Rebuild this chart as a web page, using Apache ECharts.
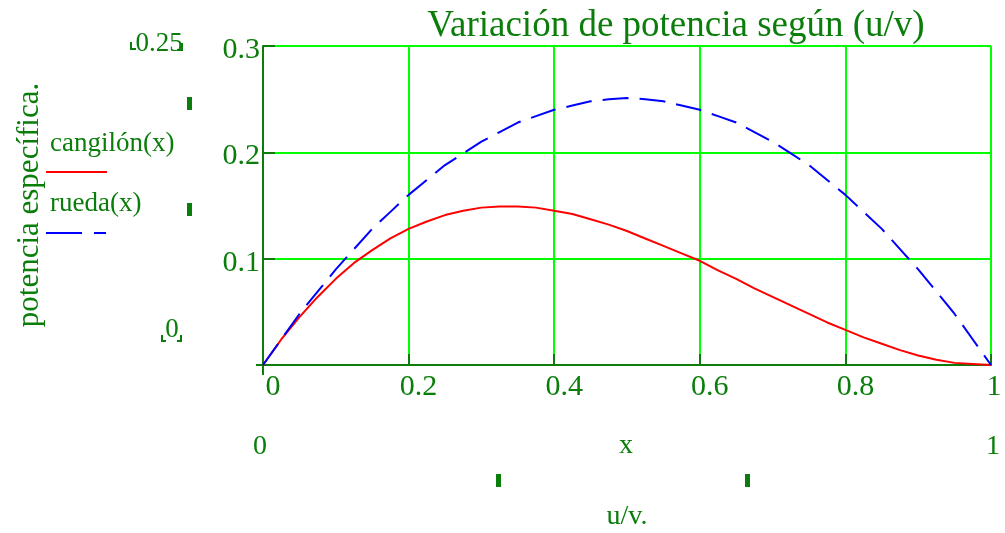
<!DOCTYPE html>
<html>
<head>
<meta charset="utf-8">
<script src="https://cdn.jsdelivr.net/npm/echarts@6/dist/echarts.min.js"></script>
<style>
html,body{margin:0;padding:0;background:#fff;}
#chart{width:1005px;height:533px;}
</style>
</head>
<body>
<div id="chart"></div>
<script>
// Data
const xValues = [0, 0.025, 0.05, 0.075, 0.1, 0.125, 0.15, 0.175, 0.2, 0.225, 0.25, 0.275, 0.3, 0.325, 0.35, 0.375, 0.4, 0.425, 0.45, 0.475, 0.5, 0.525, 0.55, 0.575, 0.6, 0.625, 0.65, 0.675, 0.7, 0.725, 0.75, 0.775, 0.8, 0.825, 0.85, 0.875, 0.9, 0.925, 0.95, 0.975, 1];
const cangilon = [0, 0.024, 0.045, 0.064, 0.081, 0.096, 0.108, 0.119, 0.128, 0.135, 0.141, 0.145, 0.148, 0.149, 0.149, 0.148, 0.145, 0.142, 0.137, 0.132, 0.126, 0.119, 0.112, 0.105, 0.098, 0.089, 0.081, 0.072, 0.064, 0.056, 0.048, 0.040, 0.033, 0.026, 0.020, 0.014, 0.009, 0.005, 0.002, 0.001, 0];
const rueda = [0, 0.024, 0.048, 0.069, 0.090, 0.109, 0.128, 0.144, 0.160, 0.174, 0.188, 0.199, 0.210, 0.219, 0.228, 0.234, 0.240, 0.244, 0.248, 0.250, 0.251, 0.250, 0.248, 0.244, 0.240, 0.234, 0.228, 0.219, 0.210, 0.199, 0.188, 0.174, 0.160, 0.144, 0.128, 0.109, 0.090, 0.069, 0.048, 0.024, 0];
const seriesNames = ['cangilón(x)', 'rueda(x)'];
const titleText = 'Variación de potencia según (u/v)';
const yAxisName = 'potencia específica.';
const xAxisName = 'u/v.';

const GREEN = '#0a7d0a';
const FONT = '"Liberation Serif", "Times New Roman", serif';
const chart = echarts.init(document.getElementById('chart'));

function txt(text, x, y, size, align, extra) {
  return Object.assign({
    type: 'text', x: x, y: y, silent: true,
    style: { text: text, fill: GREEN, fontFamily: FONT, fontSize: size, align: align || 'center', verticalAlign: 'middle' }
  }, extra || {});
}
function ln(x1, y1, x2, y2, color, w) {
  return { type: 'line', silent: true, shape: { x1: x1, y1: y1, x2: x2, y2: y2 }, style: { stroke: color, lineWidth: w } };
}
function poly(pts) {
  return { type: 'polyline', silent: true, shape: { points: pts }, style: { stroke: GREEN, lineWidth: 2, fill: null } };
}
function mark(x, y) {
  return { type: 'rect', silent: true, shape: { x: x, y: y, width: 5, height: 13 }, style: { fill: GREEN } };
}

chart.setOption({
  animation: false,
  backgroundColor: '#ffffff',
  grid: { left: 263, right: 14, top: 46, bottom: 168, containLabel: false, outerBoundsMode: 'none' },
  xAxis: {
    type: 'value', min: 0, max: 1, interval: 0.2,
    axisLine: { show: true, onZero: false, lineStyle: { color: GREEN, width: 2 } },
    axisTick: { show: true, inside: true, length: 11, lineStyle: { color: GREEN, width: 2 } },
    splitLine: { show: true, lineStyle: { color: '#00ff00', width: 2 } },
    axisLabel: { color: GREEN, fontFamily: FONT, fontSize: 30, margin: 7, padding: [0, 0, 0, 20],
      formatter: function (v) { return v === 1 ? '{r|1}' : String(v); },
      rich: { r: { color: GREEN, fontFamily: FONT, fontSize: 30, padding: [0, 14, 0, 0] } } }
  },
  yAxis: {
    type: 'value', min: 0, max: 0.3, interval: 0.1,
    axisLine: { show: true, onZero: false, lineStyle: { color: GREEN, width: 2 } },
    axisTick: { show: true, inside: true, length: 12, lineStyle: { color: GREEN, width: 2 } },
    splitLine: { show: true, lineStyle: { color: '#00ff00', width: 2 } },
    axisLabel: { color: GREEN, fontFamily: FONT, fontSize: 30, margin: 3, verticalAlign: 'top', lineHeight: 8,
      formatter: function (v) { return v === 0 ? '' : String(v); } }
  },
  series: [
    { name: seriesNames[0], type: 'line', showSymbol: false, symbol: 'none',
      data: xValues.map((x, i) => [x, cangilon[i]]),
      lineStyle: { color: '#ff0000', width: 2 }, z: 3 },
    { name: seriesNames[1], type: 'line', showSymbol: false, symbol: 'none',
      data: xValues.map((x, i) => [x, rueda[i]]),
      lineStyle: { color: '#0000ff', width: 2, type: [26, 11] }, z: 4 }
  ],
  graphic: [
    txt(titleText, 676, 26, 37),
    ln(263, 365, 263, 375, GREEN, 2),
    ln(256, 365, 263, 365, GREEN, 2),
    txt('0.25', 159, 44, 27),
    poly([[131, 42], [131, 49], [136, 49]]),
    poly([[182, 43], [182, 50], [177, 50]]),
    txt('0', 172, 330, 27),
    poly([[162, 335], [162, 341], [166, 341]]),
    poly([[181, 335], [181, 341], [177, 341]]),
    mark(187, 97),
    mark(187, 203),
    txt(yAxisName, 30, 205, 31, 'center', { rotation: Math.PI / 2 }),
    txt(seriesNames[0], 50, 144, 27, 'left'),
    ln(46, 172, 107, 172, '#ff0000', 2),
    txt(seriesNames[1], 50, 204, 27, 'left'),
    ln(46, 233, 82, 233, '#0000ff', 2),
    ln(94, 233, 106, 233, '#0000ff', 2),
    txt('0', 260, 447, 28),
    txt('x', 626, 446, 28),
    txt('1', 993, 447, 28),
    mark(496, 474),
    mark(745, 474),
    txt(xAxisName, 627, 517, 28)
  ]
});
</script>
</body>
</html>
